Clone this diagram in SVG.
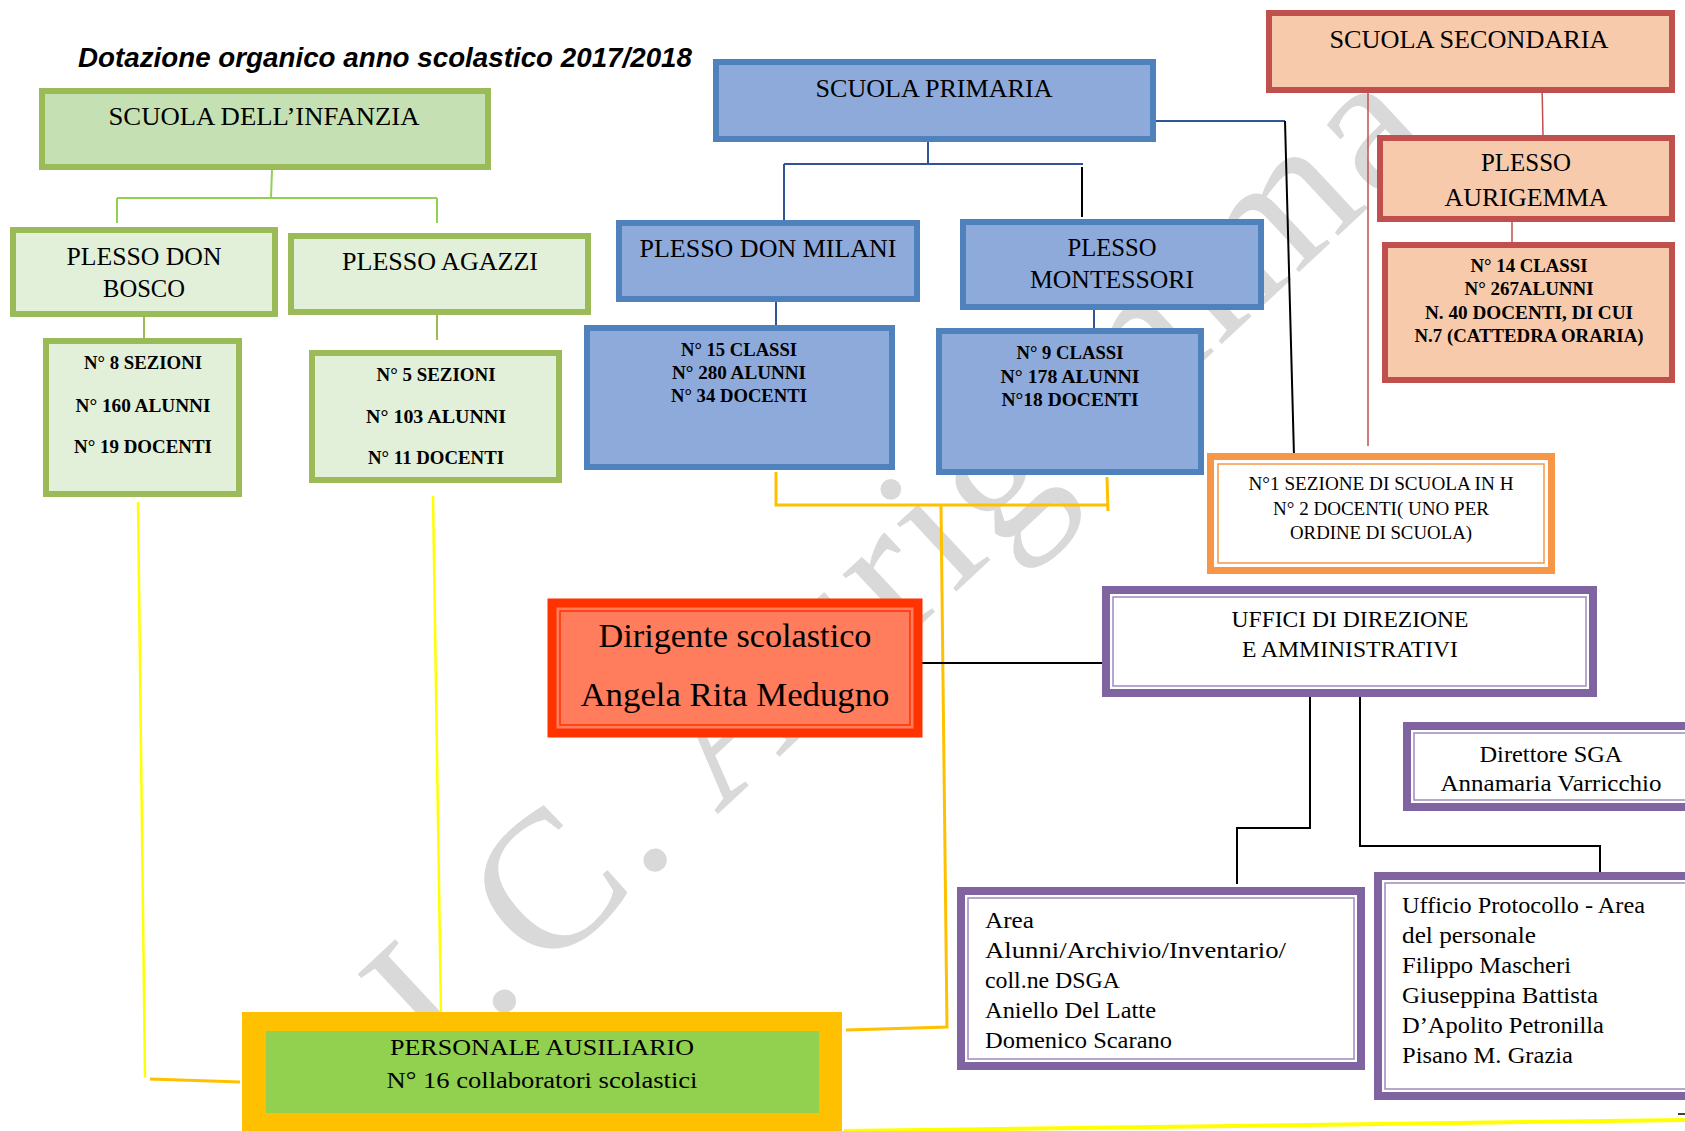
<svg xmlns="http://www.w3.org/2000/svg" width="1685" height="1131" viewBox="0 0 1685 1131">
<style>
.t{font-family:"Liberation Serif","Times New Roman",serif;fill:#000;text-anchor:middle}
.l{text-anchor:start}
.b{font-weight:bold}
.s25{font-size:25px}
.s18{font-size:19px}
.s23{font-size:23px}
.gh{fill:#C5E0B3;stroke:#9BBB59;stroke-width:6}
.gp{fill:#E2EFD9;stroke:#9BBB59;stroke-width:6}
.bl{fill:#8EAADB;stroke:#4F81BD;stroke-width:6}
.rd{fill:#F7CAAC;stroke:#C0504D;stroke-width:6}
.pu{fill:#fff;stroke:#8064A2;stroke-width:8}
.pi{fill:none;stroke:#9F8BBE;stroke-width:1.5}
.or{fill:#fff;stroke:#F79646;stroke-width:7}
.oi{fill:none;stroke:#F79646;stroke-width:1.5}
.cg{fill:none;stroke:#92D050;stroke-width:2}
.cb{fill:none;stroke:#2F5597;stroke-width:2}
.ck{fill:none;stroke:#000;stroke-width:2}
.cr{fill:none;stroke:#C0504D;stroke-width:1.5}
.cy{fill:none;stroke:#FFFF00;stroke-width:2.5}
.co{fill:none;stroke:#FFC000;stroke-width:3}
</style>
<defs>
<clipPath id="clipDir"><rect x="1400" y="720" width="290" height="72"/></clipPath>
</defs>
<rect width="1685" height="1131" fill="#fff"/>
<text x="0" y="0" transform="translate(440,1073) rotate(-43)" font-family="Liberation Serif, serif" font-size="196" fill="#D9D9D9" textLength="1365"><tspan>I.</tspan><tspan dx="14">C.</tspan><tspan> Aurigemma</tspan></text>
<text x="78" y="67" font-family="Liberation Sans, Arial, sans-serif" font-weight="bold" font-style="italic" font-size="27" textLength="614" lengthAdjust="spacingAndGlyphs">Dotazione organico anno scolastico 2017/2018</text>
<g id="connectors">
<path class="cg" d="M272 170 L271 198 M117 198 H437 M117 198 V223 M437 198 V223"/>
<path fill="none" stroke="#9BBB59" stroke-width="2" d="M144 317 V338 M437 315 V340"/>
<path class="cb" d="M928 139 V164 M784 164 H1083 M784 164 V220 M776 302 V325 M1094 300 V328 M1150 121 H1285"/>
<path class="ck" d="M1082 167 V217 M1285 121 L1294 456"/>
<path class="cr" d="M1542 82 L1543 136 M1512 218 V243 M1368 93 V446"/>
<path class="co" d="M776 472 V505 H1107 M1107 477 L1108 511 M941 505 L947 1027 L846 1030 M150 1079 L240 1082"/>
<path class="cy" d="M138 502 L145 1077 M433 496 L441 1014"/>
<path class="ck" d="M919 663 H1110 M1310 691 V828 H1237 V884 M1360 691 V846 H1600 V877"/>
<path fill="none" stroke="#FFFF00" stroke-width="4" d="M844 1131 L1685 1120"/>
<path fill="none" stroke="#000" stroke-width="1.5" d="M1678 1114 H1685"/>
</g>
<g id="infanzia">
<rect class="gh" x="42" y="91" width="446" height="76"/>
<text class="t s25" x="264" y="125" textLength="311" lengthAdjust="spacingAndGlyphs">SCUOLA DELL’INFANZIA</text>
</g>
<g id="don-bosco">
<rect class="gp" x="13" y="230" width="262" height="84"/>
<text class="t s25" x="144" y="265" textLength="155" lengthAdjust="spacingAndGlyphs">PLESSO DON</text>
<text class="t s25" x="144" y="297" textLength="82" lengthAdjust="spacingAndGlyphs">BOSCO</text>
</g>
<g id="agazzi">
<rect class="gp" x="291" y="236" width="297" height="76"/>
<text class="t s25" x="440" y="270" textLength="196" lengthAdjust="spacingAndGlyphs">PLESSO AGAZZI</text>
</g>
<g id="don-bosco-dati">
<rect class="gp" x="46" y="341" width="193" height="153"/>
<text class="t b s18" x="143" y="369" textLength="118" lengthAdjust="spacingAndGlyphs">N° 8 SEZIONI</text>
<text class="t b s18" x="143" y="412" textLength="135" lengthAdjust="spacingAndGlyphs">N° 160 ALUNNI</text>
<text class="t b s18" x="143" y="453" textLength="138" lengthAdjust="spacingAndGlyphs">N° 19 DOCENTI</text>
</g>
<g id="agazzi-dati">
<rect class="gp" x="312" y="353" width="247" height="127"/>
<text class="t b s18" x="436" y="381" textLength="119" lengthAdjust="spacingAndGlyphs">N° 5 SEZIONI</text>
<text class="t b s18" x="436" y="423" textLength="140" lengthAdjust="spacingAndGlyphs">N°  103 ALUNNI</text>
<text class="t b s18" x="436" y="464" textLength="136" lengthAdjust="spacingAndGlyphs">N° 11 DOCENTI</text>
</g>
<g id="primaria">
<rect class="bl" x="716" y="62" width="437" height="77"/>
<text class="t s25" x="934" y="97" textLength="237" lengthAdjust="spacingAndGlyphs">SCUOLA PRIMARIA</text>
</g>
<g id="don-milani">
<rect class="bl" x="619" y="223" width="298" height="76"/>
<text class="t s25" x="768" y="257" textLength="257" lengthAdjust="spacingAndGlyphs">PLESSO DON MILANI</text>
</g>
<g id="montessori">
<rect class="bl" x="963" y="222" width="298" height="85"/>
<text class="t s25" x="1112" y="256" textLength="89" lengthAdjust="spacingAndGlyphs">PLESSO</text>
<text class="t s25" x="1112" y="288" textLength="164" lengthAdjust="spacingAndGlyphs">MONTESSORI</text>
</g>
<g id="don-milani-dati">
<rect class="bl" x="587" y="328" width="305" height="139"/>
<text class="t b s18" x="739" y="356" textLength="116" lengthAdjust="spacingAndGlyphs">N° 15 CLASSI</text>
<text class="t b s18" x="739" y="379" textLength="134" lengthAdjust="spacingAndGlyphs">N° 280 ALUNNI</text>
<text class="t b s18" x="739" y="402" textLength="136" lengthAdjust="spacingAndGlyphs">N° 34 DOCENTI</text>
</g>
<g id="montessori-dati">
<rect class="bl" x="939" y="331" width="262" height="141"/>
<text class="t b s18" x="1070" y="359" textLength="107" lengthAdjust="spacingAndGlyphs">N° 9 CLASSI</text>
<text class="t b s18" x="1070" y="383" textLength="139" lengthAdjust="spacingAndGlyphs">N°  178 ALUNNI</text>
<text class="t b s18" x="1070" y="406" textLength="137" lengthAdjust="spacingAndGlyphs">N°18  DOCENTI</text>
</g>
<g id="secondaria">
<rect class="rd" x="1269" y="13" width="403" height="77"/>
<text class="t s25" x="1469" y="48" textLength="279" lengthAdjust="spacingAndGlyphs">SCUOLA SECONDARIA</text>
</g>
<g id="aurigemma">
<rect class="rd" x="1380" y="138" width="292" height="81"/>
<text class="t s25" x="1526" y="171" textLength="90" lengthAdjust="spacingAndGlyphs">PLESSO</text>
<text class="t s25" x="1526" y="206" textLength="163" lengthAdjust="spacingAndGlyphs">AURIGEMMA</text>
</g>
<g id="aurigemma-dati">
<rect class="rd" x="1385" y="245" width="287" height="135"/>
<text class="t b s18" x="1529" y="272" textLength="117" lengthAdjust="spacingAndGlyphs">N° 14 CLASSI</text>
<text class="t b s18" x="1529" y="295" textLength="129" lengthAdjust="spacingAndGlyphs">N° 267ALUNNI</text>
<text class="t b s18" x="1529" y="319" textLength="208" lengthAdjust="spacingAndGlyphs">N.  40 DOCENTI, DI CUI</text>
<text class="t b s18" x="1529" y="342" textLength="229" lengthAdjust="spacingAndGlyphs">N.7 (CATTEDRA ORARIA)</text>
</g>
<g id="sezione-h">
<rect class="or" x="1210.5" y="456.5" width="341" height="114"/>
<rect class="oi" x="1218" y="464" width="326" height="99"/>
<text class="t" font-size="18.5" x="1381" y="490" textLength="265" lengthAdjust="spacingAndGlyphs">N°1 SEZIONE DI SCUOLA IN H</text>
<text class="t" font-size="18.5" x="1381" y="515" textLength="216" lengthAdjust="spacingAndGlyphs">N° 2 DOCENTI( UNO PER</text>
<text class="t" font-size="18.5" x="1381" y="539" textLength="182" lengthAdjust="spacingAndGlyphs">ORDINE DI SCUOLA)</text>
</g>
<g id="uffici">
<rect class="pu" x="1106" y="590" width="487" height="103"/>
<rect class="pi" x="1113" y="597" width="473" height="89"/>
<text class="t s23" x="1350" y="627" textLength="237" lengthAdjust="spacingAndGlyphs">UFFICI DI DIREZIONE</text>
<text class="t s23" x="1350" y="657" textLength="216" lengthAdjust="spacingAndGlyphs">E AMMINISTRATIVI</text>
</g>
<g id="dirigente">
<rect x="552" y="603" width="366" height="130" fill="#FF7C5C" stroke="#FF3300" stroke-width="9"/>
<rect x="560" y="611" width="350" height="114" fill="none" stroke="#FF3300" stroke-width="1.5"/>
<text class="t" font-size="34" x="735" y="647" textLength="273" lengthAdjust="spacingAndGlyphs">Dirigente scolastico</text>
<text class="t" font-size="34" x="735" y="706" textLength="309" lengthAdjust="spacingAndGlyphs">Angela Rita Medugno</text>
</g>
<g id="direttore">
<rect class="pu" x="1407" y="726" width="290" height="81"/>
<rect class="pi" x="1414" y="733" width="290" height="67"/>
<g clip-path="url(#clipDir)">
<text class="t s23" x="1551" y="762" textLength="143" lengthAdjust="spacingAndGlyphs">Direttore SGA</text>
<text class="t s23" x="1551" y="791" textLength="221" lengthAdjust="spacingAndGlyphs">Annamaria Varricchio</text>
</g>
</g>
<g id="area-alunni">
<rect class="pu" x="961" y="891" width="400" height="175"/>
<rect class="pi" x="968" y="898" width="386" height="161"/>
<text class="t l s23" x="985" y="928" textLength="49" lengthAdjust="spacingAndGlyphs">Area</text>
<text class="t l s23" x="985" y="958" textLength="301" lengthAdjust="spacingAndGlyphs">Alunni/Archivio/Inventario/</text>
<text class="t l s23" x="985" y="988" textLength="135" lengthAdjust="spacingAndGlyphs">coll.ne DSGA</text>
<text class="t l s23" x="985" y="1018" textLength="171" lengthAdjust="spacingAndGlyphs">Aniello Del Latte</text>
<text class="t l s23" x="985" y="1048" textLength="187" lengthAdjust="spacingAndGlyphs">Domenico Scarano</text>
</g>
<g id="ufficio-protocollo">
<rect class="pu" x="1378" y="876" width="320" height="220"/>
<rect class="pi" x="1385" y="883" width="320" height="206"/>
<text class="t l s23" x="1402" y="913" textLength="243" lengthAdjust="spacingAndGlyphs">Ufficio Protocollo - Area</text>
<text class="t l s23" x="1402" y="943" textLength="134" lengthAdjust="spacingAndGlyphs">del personale</text>
<text class="t l s23" x="1402" y="973" textLength="169" lengthAdjust="spacingAndGlyphs">Filippo Mascheri</text>
<text class="t l s23" x="1402" y="1003" textLength="196" lengthAdjust="spacingAndGlyphs">Giuseppina Battista</text>
<text class="t l s23" x="1402" y="1033" textLength="202" lengthAdjust="spacingAndGlyphs">D’Apolito Petronilla</text>
<text class="t l s23" x="1402" y="1063" textLength="171" lengthAdjust="spacingAndGlyphs">Pisano M. Grazia</text>
</g>
<g id="personale">
<rect x="242" y="1012" width="600" height="119" fill="#FFC000"/>
<rect x="266" y="1031" width="553" height="82" fill="#92D050"/>
<text class="t" font-size="24" x="542" y="1055" textLength="304" lengthAdjust="spacingAndGlyphs">PERSONALE AUSILIARIO</text>
<text class="t" font-size="24" x="542" y="1088" textLength="311" lengthAdjust="spacingAndGlyphs">N° 16 collaboratori scolastici</text>
</g>
</svg>
